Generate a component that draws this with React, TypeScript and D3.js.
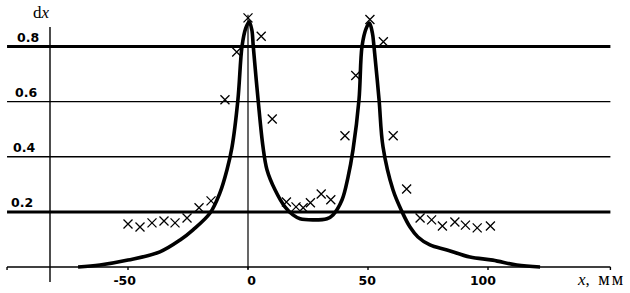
import * as d3 from "d3";
import React, { useEffect, useRef } from "react";

// Measured curve (solid thick line)
const curveX = [-70.8, -61.7, -50, -36.7, -28.3, -22.9, -15.8, -11.7, -8.75, -6.7, -4.2, -2.5, -1, 0.5, 1.6, 2.2, 4.2, 6.25, 7.9, 11.25, 15.4, 18.75, 21.7, 27, 32.9, 35.4, 39.2, 41.7, 43.75, 46.25, 47.5, 49.2, 50.6, 51.8, 52.5, 54.6, 56.25, 60.4, 64.2, 67.5, 70.8, 75.8, 82.9, 92.5, 102, 112, 121.7];
const curveY = [0, 0.007, 0.025, 0.055, 0.098, 0.135, 0.196, 0.269, 0.353, 0.433, 0.607, 0.8, 0.865, 0.89, 0.86, 0.8, 0.607, 0.436, 0.353, 0.28, 0.218, 0.189, 0.175, 0.171, 0.175, 0.189, 0.244, 0.327, 0.425, 0.607, 0.8, 0.865, 0.885, 0.85, 0.8, 0.607, 0.436, 0.28, 0.2, 0.145, 0.109, 0.08, 0.062, 0.036, 0.025, 0.007, 0];

// Experimental points (crosses)
const pointX = [-50, -45, -40, -35, -30.4, -25.4, -20.4, -15.4, -9.6, -4.7, 0, 5.5, 10.1, 16, 20, 23, 26, 30.5, 34.5, 40.4, 44.9, 50.8, 56.4, 60.5, 66.1, 71.7, 76.5, 81, 86.2, 90.6, 95.5, 101];
const pointY = [0.156, 0.145, 0.16, 0.167, 0.16, 0.178, 0.215, 0.24, 0.607, 0.78, 0.904, 0.837, 0.537, 0.236, 0.218, 0.215, 0.233, 0.265, 0.244, 0.476, 0.695, 0.898, 0.817, 0.476, 0.283, 0.178, 0.171, 0.149, 0.163, 0.152, 0.142, 0.149];

const yTicks = [0.2, 0.4, 0.6, 0.8];
const thickTicks = [0.2, 0.8];
const xTicks = [-50, 0, 50, 100];
const xTickLabels = ["-50", "0", "50", "100"];

export default function App() {
  const ref = useRef<SVGSVGElement>(null);
  const width = 630;
  const height = 293;

  useEffect(() => {
    const svg = d3.select(ref.current);
    svg.selectAll("*").remove();

    const x = d3.scaleLinear([-50, 100], [128, 488]);
    const y = d3.scaleLinear([0, 0.8], [267, 46.5]);
    const xLeft = -100.4;
    const xRight = 151;
    const yAxisAt = -82.5;

    // horizontal grid lines
    svg
      .append("g")
      .selectAll("line")
      .data(yTicks)
      .join("line")
      .attr("x1", x(xLeft))
      .attr("x2", x(xRight))
      .attr("y1", (d) => y(d))
      .attr("y2", (d) => y(d))
      .attr("stroke", "black")
      .attr("stroke-width", (d) => (thickTicks.includes(d) ? 3 : 1.4));

    // baseline
    svg
      .append("line")
      .attr("x1", x(xLeft))
      .attr("x2", x(xRight))
      .attr("y1", y(0))
      .attr("y2", y(0))
      .attr("stroke", "black")
      .attr("stroke-width", 1.4);

    // little ticks on the baseline
    svg
      .append("g")
      .selectAll("line")
      .data([xLeft, ...xTicks, xRight])
      .join("line")
      .attr("x1", (d) => x(d))
      .attr("x2", (d) => x(d))
      .attr("y1", y(0))
      .attr("y2", y(0) + 3)
      .attr("stroke", "black")
      .attr("stroke-width", 1.4);

    // y axis (left) and the line through x = 0
    svg
      .append("line")
      .attr("x1", x(yAxisAt))
      .attr("x2", x(yAxisAt))
      .attr("y1", y(0.871))
      .attr("y2", y(-0.054))
      .attr("stroke", "black")
      .attr("stroke-width", 1.4);
    svg
      .append("line")
      .attr("x1", x(0))
      .attr("x2", x(0))
      .attr("y1", y(0.915))
      .attr("y2", y(-0.007))
      .attr("stroke", "black")
      .attr("stroke-width", 1.2);

    // y tick labels
    svg
      .append("g")
      .attr("font-family", "DejaVu Sans")
      .attr("font-weight", "bold")
      .attr("font-size", 12.5)
      .selectAll("text")
      .data(yTicks)
      .join("text")
      .attr("x", (d) => 9 + d * 10)
      .attr("y", (d) => y(d) - 4.5)
      .text((d) => d.toFixed(1));

    // x tick labels
    svg
      .append("g")
      .attr("font-family", "DejaVu Sans")
      .attr("font-weight", "bold")
      .attr("font-size", 12.5)
      .attr("text-anchor", "end")
      .selectAll("text")
      .data(xTicks)
      .join("text")
      .attr("x", (d) => x(d) + 8)
      .attr("y", 285)
      .text((d, i) => xTickLabels[i]);

    // axis titles
    const yt = svg
      .append("text")
      .attr("x", 33)
      .attr("y", 18)
      .attr("font-family", "Liberation Serif")
      .attr("font-size", 17);
    yt.append("tspan").text("d");
    yt.append("tspan").attr("font-style", "italic").text("x");

    const xt = svg
      .append("text")
      .attr("x", 578)
      .attr("y", 285)
      .attr("font-family", "Liberation Serif")
      .attr("font-size", 17)
      .attr("xml:space", "preserve");
    xt.append("tspan").attr("font-style", "italic").text("x");
    xt.append("tspan").text(",  ");
    xt.append("tspan").attr("font-size", 18).attr("letter-spacing", 2).text("мм");

    // curve
    const line = d3
      .line<number>()
      .x((i) => x(curveX[i]))
      .y((i) => y(curveY[i]))
      .curve(d3.curveCatmullRom.alpha(0.5));
    svg
      .append("path")
      .attr("d", line(d3.range(curveX.length)))
      .attr("fill", "none")
      .attr("stroke", "black")
      .attr("stroke-width", 3.6)
      .attr("stroke-linejoin", "round");

    // crosses
    const s = 4.5;
    svg
      .append("g")
      .selectAll("path")
      .data(d3.range(pointX.length))
      .join("path")
      .attr("transform", (i) => `translate(${x(pointX[i])},${y(pointY[i])})`)
      .attr("d", `M${-s},${-s}L${s},${s}M${-s},${s}L${s},${-s}`)
      .attr("stroke", "black")
      .attr("stroke-width", 1.3)
      .attr("fill", "none");
  }, []);

  return (
    <svg
      ref={ref}
      width={width}
      height={height}
      style={{ position: "absolute", left: 0, top: 0, background: "white" }}
    ></svg>
  );
}
